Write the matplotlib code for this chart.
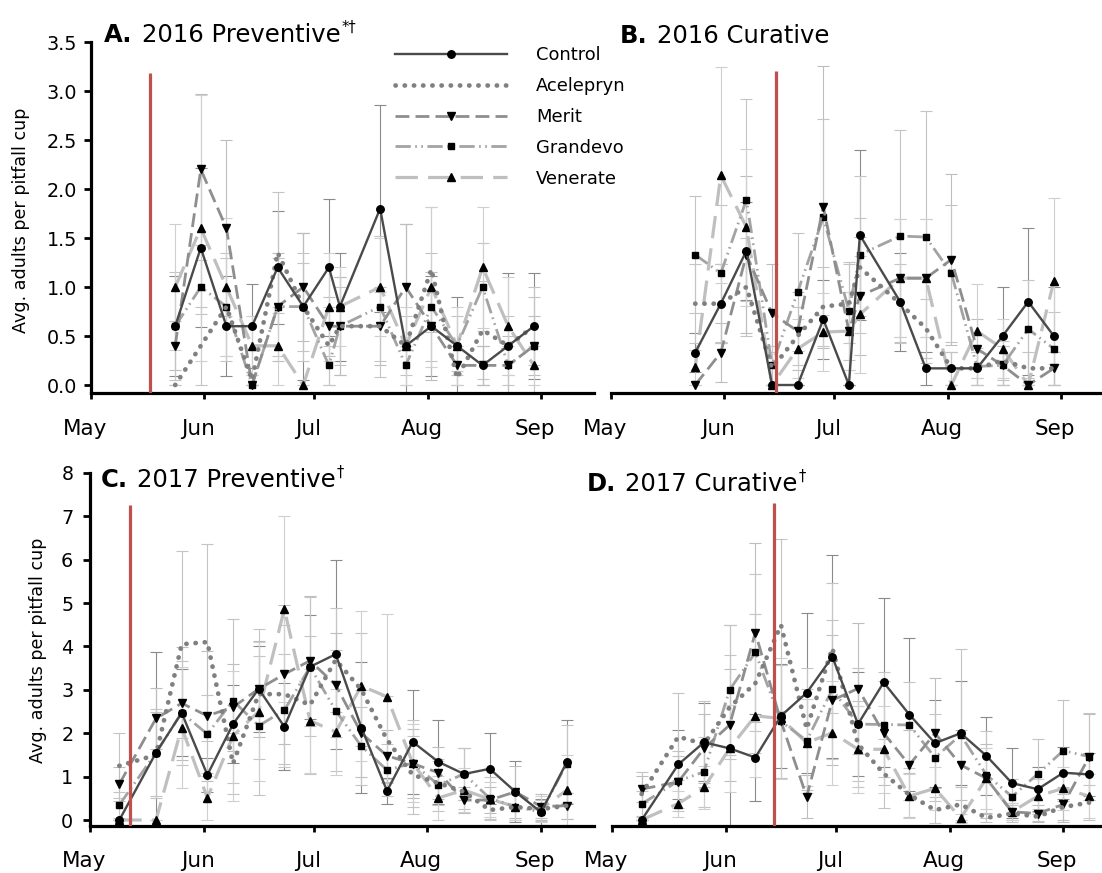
import numpy as np
import matplotlib
matplotlib.use("Agg")
import matplotlib.pyplot as plt
import matplotlib.dates as mdates
from matplotlib.ticker import FormatStrFormatter, MultipleLocator
from matplotlib.transforms import ScaledTranslation
from datetime import datetime

plt.rcParams['font.family'] = ['DejaVu Sans']

treatments = ["Control", "Acelepryn", "Merit", "Grandevo", "Venerate"]

# sampling dates
dates_2016 = ["2016-05-24", "2016-05-31", "2016-06-07", "2016-06-14", "2016-06-21",
              "2016-06-28", "2016-07-05", "2016-07-08", "2016-07-19", "2016-07-26",
              "2016-08-02", "2016-08-09", "2016-08-16", "2016-08-23", "2016-08-30"]
dates_2017 = ["2017-05-09", "2017-05-19", "2017-05-26", "2017-06-02", "2017-06-09",
              "2017-06-16", "2017-06-23", "2017-06-30", "2017-07-07", "2017-07-14",
              "2017-07-21", "2017-07-28", "2017-08-04", "2017-08-11", "2017-08-18",
              "2017-08-25", "2017-09-01", "2017-09-08"]

# insecticide application dates
app_prev_2016 = "2016-05-17"
app_cur_2016 = "2016-06-15"
app_prev_2017 = "2017-05-12"
app_cur_2017 = "2017-06-14"

# A. 2016 preventive: mean adults per cup
prev16_mean = {
    "Control":   [0.6, 1.4, 0.6, 0.6, 1.2, 0.8, 1.2, 0.8, 1.8, 0.4, 0.6, 0.4, 0.2, 0.4, 0.6],
    "Acelepryn": [0.0, 0.4, 0.8, 0.05, 1.35, 0.8, 0.4, 0.6, 0.6, 0.4, 1.18, 0.07, 0.56, 0.4, 0.6],
    "Merit":     [0.4, 2.2, 1.6, 0.0, 0.8, 1.0, 0.6, 0.6, 0.6, 1.0, 0.6, 0.2, 0.2, 0.2, 0.4],
    "Grandevo":  [0.6, 1.0, 0.8, 0.0, 0.8, 0.8, 0.2, 0.6, 0.8, 0.2, 0.8, 0.4, 1.0, 0.2, 0.4],
    "Venerate":  [1.0, 1.6, 1.0, 0.4, 0.4, 0.0, 0.8, 0.8, 1.0, 0.4, 1.0, 0.4, 1.2, 0.6, 0.2],
}
prev16_se = {
    "Control":   [0.51, 0.81, 0.51, 0.43, 0.58, 0.75, 0.70, 0.55, 1.06, 1.24, 0.51, 0.50, 0.20, 0.74, 0.54],
    "Acelepryn": [0.00, 0.40, 0.50, 0.05, 0.62, 0.45, 0.40, 0.50, 0.35, 0.30, 0.64, 0.07, 0.50, 0.30, 0.40],
    "Merit":     [0.25, 0.77, 0.90, 0.00, 0.55, 0.55, 0.30, 0.50, 0.40, 0.64, 0.55, 0.20, 0.20, 0.30, 0.30],
    "Grandevo":  [0.55, 0.28, 0.55, 0.00, 0.50, 0.55, 0.20, 0.40, 0.72, 0.20, 0.55, 0.30, 0.45, 0.20, 0.50],
    "Venerate":  [0.64, 1.36, 0.70, 0.30, 0.40, 0.00, 0.55, 0.40, 0.50, 0.40, 0.82, 0.40, 0.62, 0.50, 0.20],
}

# B. 2016 curative
cur16_mean = {
    "Control":   [0.33, 0.83, 1.37, 0.0, 0.0, 0.67, 0.0, 1.53, 0.85, 0.17, 0.17, 0.17, 0.5, 0.85, 0.5],
    "Acelepryn": [0.83, 0.83, 1.0, 0.17, 0.5, 0.8, 0.83, 1.2, 0.83, 0.58, 0.17, 0.17, 0.25, 0.17, 0.17],
    "Merit":     [0.0, 0.33, 1.33, 0.73, 0.55, 1.82, 0.55, 0.91, 1.09, 1.09, 1.28, 0.37, 0.2, 0.0, 0.17],
    "Grandevo":  [1.33, 1.14, 1.89, 0.2, 0.95, 1.71, 0.76, 1.33, 1.52, 1.51, 1.14, 0.19, 0.2, 0.57, 0.37],
    "Venerate":  [0.18, 2.14, 1.61, 0.0, 0.37, 0.54, 0.55, 0.72, 1.09, 1.09, 0.0, 0.55, 0.37, 0.0, 1.06],
}
cur16_se = {
    "Control":   [0.20, 0.40, 0.50, 0.00, 0.00, 0.40, 0.00, 0.87, 0.50, 0.17, 0.17, 0.17, 0.50, 0.75, 0.50],
    "Acelepryn": [0.40, 0.40, 0.50, 0.17, 0.30, 0.40, 0.40, 0.50, 0.40, 0.30, 0.17, 0.17, 0.20, 0.17, 0.17],
    "Merit":     [0.00, 0.30, 0.80, 0.50, 0.40, 1.44, 0.40, 0.60, 0.60, 0.60, 0.87, 0.30, 0.20, 0.00, 0.17],
    "Grandevo":  [0.60, 0.70, 1.03, 0.20, 0.60, 1.00, 0.50, 0.80, 1.08, 1.29, 0.70, 0.19, 0.20, 0.50, 0.37],
    "Venerate":  [0.18, 1.10, 0.80, 0.00, 0.30, 0.40, 0.40, 0.60, 0.60, 0.60, 0.00, 0.48, 0.30, 0.00, 0.85],
}

# C. 2017 preventive
prev17_mean = {
    "Control":   [0.0, 1.55, 2.47, 1.04, 2.21, 3.02, 2.15, 3.53, 3.82, 2.13, 0.67, 1.8, 1.34, 1.06, 1.18, 0.65, 0.18, 1.33],
    "Acelepryn": [1.25, 1.5, 4.05, 4.1, 1.3, 2.9, 2.9, 2.65, 3.69, 3.0, 1.85, 1.04, 0.85, 0.65, 0.23, 0.3, 0.25, 0.33],
    "Merit":     [0.83, 2.34, 2.69, 2.4, 2.6, 3.02, 3.36, 3.67, 3.11, 2.0, 1.48, 1.3, 1.09, 0.46, 0.46, 0.65, 0.31, 0.33],
    "Grandevo":  [0.35, 1.55, 2.47, 1.98, 2.75, 2.17, 2.53, 3.53, 2.52, 1.7, 1.15, 1.31, 0.81, 1.06, 0.5, 0.31, 0.18, 1.3],
    "Venerate":  [0.0, 0.0, 2.13, 0.51, 1.94, 2.5, 4.86, 2.29, 2.03, 3.09, 2.84, 1.31, 0.51, 0.69, 0.48, 0.31, 0.25, 0.69],
}
prev17_se = {
    "Control":   [0.00, 2.33, 1.00, 0.40, 0.90, 1.00, 1.00, 1.20, 2.18, 1.50, 0.30, 1.20, 0.96, 0.60, 0.82, 0.70, 0.30, 0.97],
    "Acelepryn": [0.75, 1.00, 2.15, 2.27, 0.70, 1.50, 1.60, 1.60, 1.20, 1.30, 1.00, 0.90, 0.50, 0.40, 0.20, 0.30, 0.20, 0.30],
    "Merit":     [0.40, 0.70, 1.30, 1.50, 1.00, 1.10, 1.60, 1.50, 1.20, 1.00, 0.60, 0.80, 0.60, 0.30, 0.30, 0.60, 0.30, 0.30],
    "Grandevo":  [0.30, 1.00, 1.20, 0.90, 1.89, 1.60, 1.30, 1.60, 1.40, 0.90, 0.60, 1.00, 0.60, 0.60, 0.50, 0.30, 0.20, 0.90],
    "Venerate":  [0.00, 0.00, 1.40, 0.50, 1.50, 1.60, 2.15, 1.20, 1.00, 1.73, 1.90, 0.90, 0.50, 0.50, 0.40, 0.30, 0.30, 0.80],
}

# D. 2017 curative
cur17_mean = {
    "Control":   [0.0, 1.28, 1.79, 1.65, 1.44, 2.4, 2.93, 3.76, 2.21, 3.17, 2.43, 1.77, 2.0, 1.48, 0.85, 0.71, 1.09, 1.05],
    "Acelepryn": [0.6, 1.92, 1.75, 2.6, 3.15, 4.49, 2.1, 3.96, 1.75, 1.07, 0.58, 0.23, 0.36, 0.05, 0.15, 0.08, 0.3, 0.4],
    "Merit":     [0.71, 0.88, 1.65, 2.19, 4.32, 2.27, 0.54, 2.76, 3.03, 2.0, 1.27, 2.0, 1.27, 0.96, 0.19, 0.15, 0.36, 1.45],
    "Grandevo":  [0.37, 0.9, 1.11, 3.0, 3.86, 2.27, 1.83, 3.01, 2.21, 2.2, 2.19, 1.44, 1.96, 1.04, 0.54, 1.06, 1.6, 1.46],
    "Venerate":  [0.0, 0.38, 0.75, 1.65, 2.4, 2.34, 1.78, 2.01, 1.63, 1.63, 0.55, 0.73, 0.04, 0.96, 0.19, 0.55, 0.73, 0.55],
}
cur17_se = {
    "Control":   [0.00, 0.80, 0.90, 2.85, 1.00, 1.20, 1.85, 2.34, 1.20, 1.95, 1.77, 1.00, 1.20, 0.90, 0.80, 0.50, 0.60, 0.50],
    "Acelepryn": [0.50, 1.00, 1.00, 1.20, 1.60, 1.98, 1.40, 1.50, 1.00, 0.80, 0.50, 0.30, 0.40, 0.10, 0.20, 0.10, 0.30, 0.40],
    "Merit":     [0.30, 0.60, 0.80, 1.30, 2.07, 1.30, 0.50, 1.50, 1.50, 1.20, 0.80, 1.27, 0.80, 0.80, 0.20, 0.20, 0.40, 1.00],
    "Grandevo":  [0.30, 0.70, 0.80, 1.50, 1.80, 1.30, 1.20, 1.60, 1.30, 1.20, 1.00, 1.00, 1.97, 1.00, 0.40, 0.80, 1.16, 1.00],
    "Venerate":  [0.00, 0.30, 0.50, 1.00, 1.40, 1.40, 1.00, 1.20, 1.00, 1.00, 0.50, 0.50, 0.10, 0.70, 0.20, 0.40, 0.50, 0.50],
}

# line styles per treatment
styles = {
    "Control":   dict(color="#4a4a4a", lw=1.7, ls="-", marker="o", ms=5.4, ecolor="#8a8a8a"),
    "Acelepryn": dict(color="#808080", lw=3.4, ls=(0, (0.05, 1.9)), marker=None, ms=0, ecolor="#c4c4c4"),
    "Merit":     dict(color="#8e8e8e", lw=2.0, ls=(0, (5.0, 2.2)), marker="v", ms=5.8, ecolor="#bdbdbd"),
    "Grandevo":  dict(color="#a3a3a3", lw=2.0, ls=(0, (5.5, 1.6, 0.6, 1.6, 0.6, 1.6)), marker="s", ms=4.8, ecolor="#c4c4c4"),
    "Venerate":  dict(color="#bfbfbf", lw=2.3, ls=(0, (7.0, 3.2)), marker="^", ms=5.8, ecolor="#cfcfcf"),
}

W, H = 1102, 873
fig = plt.figure(figsize=(W / 100, H / 100), dpi=100)


def box(left, right, top, bottom):
    return [left / W, 1 - bottom / H, (right - left) / W, (bottom - top) / H]


def to_num(seq):
    return mdates.date2num([datetime.strptime(s, "%Y-%m-%d") for s in seq])


def draw_panel(rect, dates, means, errs, app_date, app_top, year, ylow, ytop,
               ystep, yfmt, show_y, ypad=5):
    ax = fig.add_axes(rect)
    x = to_num(dates)
    for name in treatments:
        st = styles[name]
        ax.errorbar(x, means[name], yerr=errs[name], fmt="none", ecolor=st["ecolor"],
                    elinewidth=0.8, capsize=4.6, capthick=0.8, zorder=2)
    lines = {}
    for name in reversed(treatments):
        st = styles[name]
        ln, = ax.plot(x, means[name], color=st["color"], lw=st["lw"], ls=st["ls"],
                      marker=st["marker"], ms=st["ms"], mfc="black", mec="black",
                      dash_capstyle="round" if name == "Acelepryn" else "butt",
                      label=name, zorder=3, clip_on=False)
        lines[name] = ln
    xa = to_num([app_date])[0]
    ax.vlines(xa, ylow, app_top, color="#c0504d", lw=2.3, zorder=4)

    start = mdates.date2num(datetime(year, 5, 1))
    ax.set_xlim(start, start + 137.3)
    ax.set_ylim(ylow, ytop)
    ax.xaxis.set_major_locator(mdates.MonthLocator())
    ax.xaxis.set_major_formatter(mdates.DateFormatter("%b"))
    ax.tick_params(axis="x", direction="out", length=4.5, width=2.0, labelsize=15.5,
                   pad=14, colors="black")
    for lbl in ax.get_xticklabels():
        lbl.set_transform(lbl.get_transform() +
                          ScaledTranslation(-0.06, 0, fig.dpi_scale_trans))
    for side in ("top", "right"):
        ax.spines[side].set_visible(False)
    ax.spines["bottom"].set_linewidth(2.3)
    if show_y:
        ax.spines["left"].set_linewidth(2.3)
        ax.yaxis.set_major_locator(MultipleLocator(ystep))
        ax.yaxis.set_major_formatter(FormatStrFormatter(yfmt))
        ax.tick_params(axis="y", direction="out", length=5, width=2.0, labelsize=13.8,
                       pad=ypad)
    else:
        ax.spines["left"].set_visible(False)
        ax.set_yticks([])
    ax.patch.set_alpha(0)
    return ax, lines


axA, linesA = draw_panel(box(91, 593.5, 42, 393.5), dates_2016, prev16_mean, prev16_se,
                         app_prev_2016, 3.18, 2016, -0.0867, 3.5, 0.5, "%.1f", True)
axB, _ = draw_panel(box(611, 1113.5, 42, 393.5), dates_2016, cur16_mean, cur16_se,
                    app_cur_2016, 3.2, 2016, -0.0867, 3.5, 0.5, "%.1f", False)
axC, _ = draw_panel(box(90, 593.5, 472.8, 825.7), dates_2017, prev17_mean, prev17_se,
                    app_prev_2017, 7.26, 2017, -0.131, 8, 1, "%d", True, ypad=7)
axD, _ = draw_panel(box(612.3, 1115.8, 472.8, 825.7), dates_2017, cur17_mean, cur17_se,
                    app_cur_2017, 7.3, 2017, -0.131, 8, 1, "%d", False)

# panel titles: bold letter, plain heading, small superscript marks
renderer = fig.canvas.get_renderer()


def panel_title(x_px, base_px, letter, heading, marks):
    kw = dict(fontsize=17.5, ha="left", va="baseline", color="black")
    t1 = fig.text(x_px / W, 1 - base_px / H, letter, fontweight="bold", **kw)
    x1 = t1.get_window_extent(renderer).x1
    t2 = fig.text((x1 + 9) / W, 1 - base_px / H, heading, **kw)
    if marks:
        x2 = t2.get_window_extent(renderer).x1
        fig.text((x2 + 1) / W, 1 - (base_px - 10) / H, marks, fontsize=10.5,
                 ha="left", va="baseline", color="black")


panel_title(104, 42, "A.", "2016 Preventive", "*†")
panel_title(620, 43, "B.", "2016 Curative", "")
panel_title(101, 487, "C.", "2017 Preventive", "†")
panel_title(587, 491, "D.", "2017 Curative", "†")

# y-axis labels
ylab = "Avg. adults per pitfall cup"
fig.text(21 / W, 1 - 220 / H, ylab, rotation=90, ha="center", va="center", fontsize=12.6)
fig.text(38 / W, 1 - 650 / H, ylab, rotation=90, ha="center", va="center", fontsize=12.6)

# legend
handles = [linesA[n] for n in treatments]
fig.legend(handles, treatments, loc="upper left", bbox_to_anchor=(395 / W, 1 - 46 / H),
           frameon=False, fontsize=12.9, handlelength=6.25, handletextpad=1.62,
           labelspacing=0.72, borderpad=0, borderaxespad=0, numpoints=1)

fig.savefig("out.png", dpi=100, facecolor="white")
